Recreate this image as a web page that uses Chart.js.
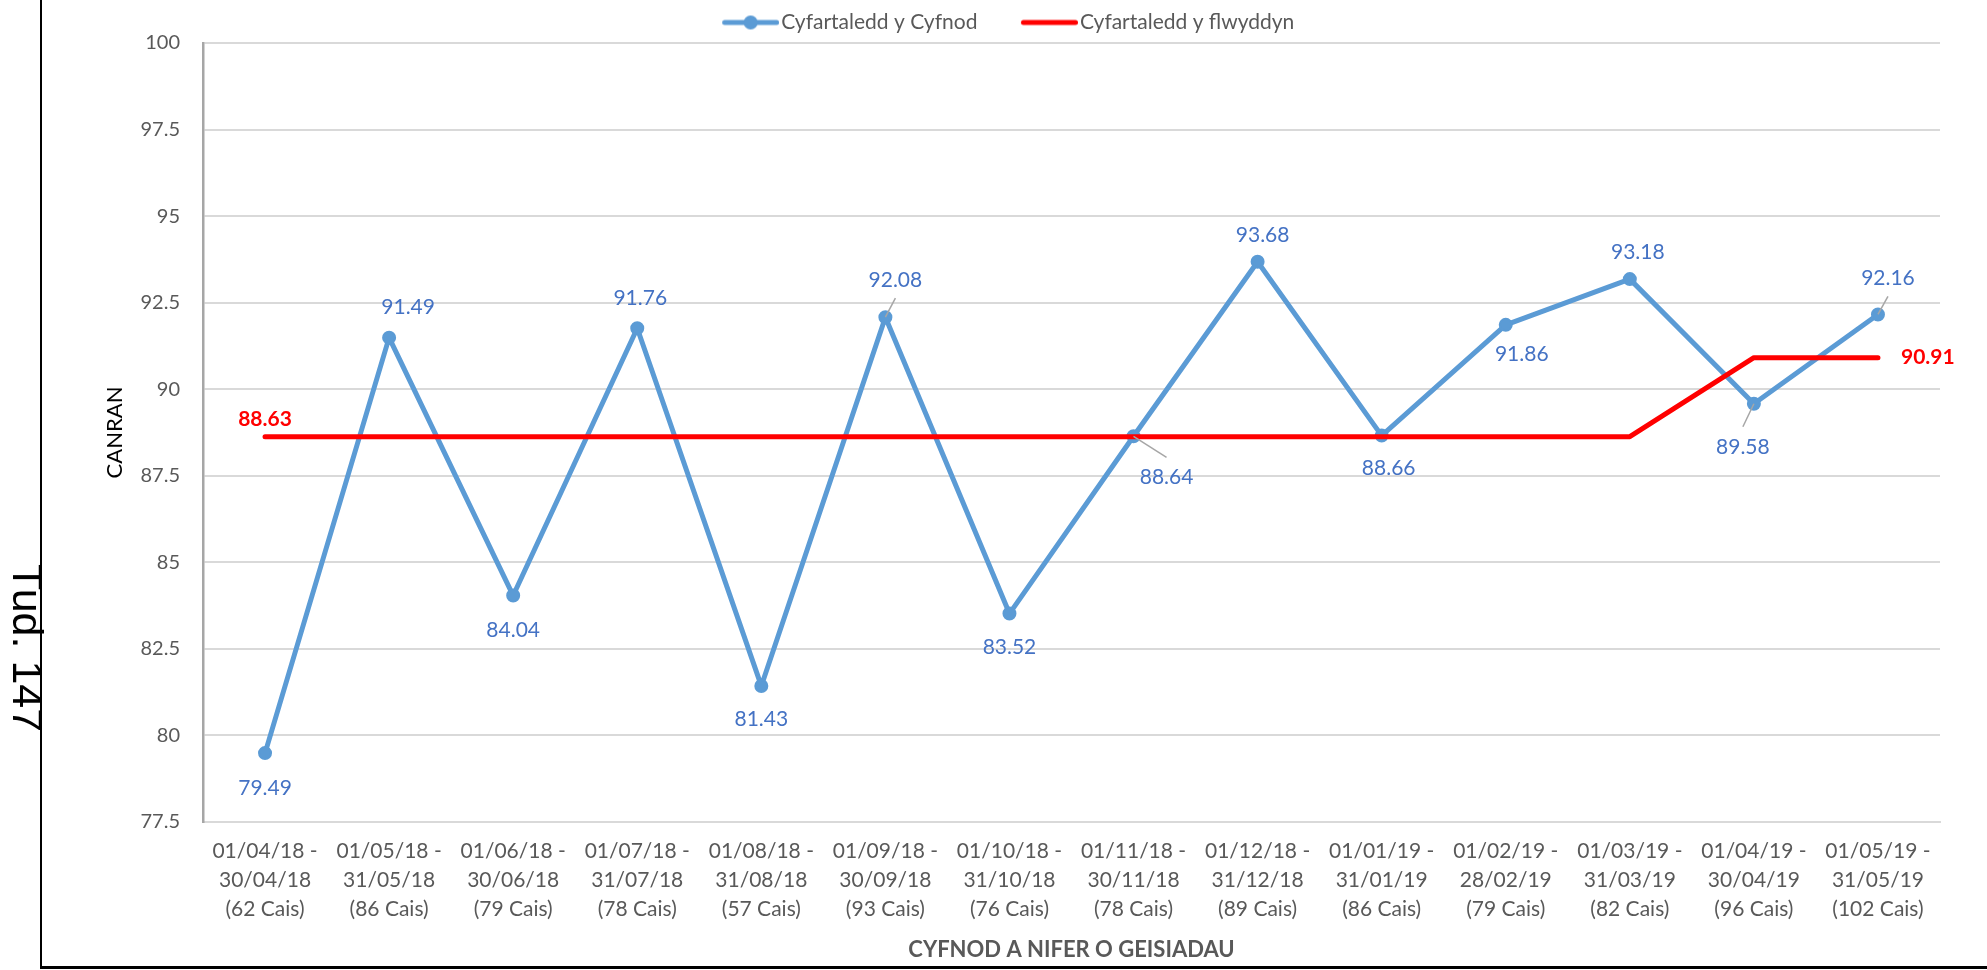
<!DOCTYPE html>
<html>
<head>
<meta charset="utf-8">
<script src="https://cdn.jsdelivr.net/npm/chart.js@4.4.1/dist/chart.umd.min.js"></script>
<style>
  html, body { margin: 0; padding: 0; background: #fff; }
  body { width: 1987px; height: 970px; position: relative; overflow: hidden; }
  #grafico { position: absolute; left: 0; top: 0; }
  .borda-esq { position: absolute; left: 40px; top: 0; width: 2px; height: 968px; background: #000; }
  .borda-baixo { position: absolute; left: 40px; top: 966px; width: 1947px; height: 3px; background: #000; }
  .tud { position: absolute; left: 49px; top: 564px; font: 43px/43px "Liberation Sans", Arial, sans-serif; color: #000; transform-origin: 0 0; transform: rotate(90deg); white-space: nowrap; }
</style>
</head>
<body>
<canvas id="grafico" width="1987" height="970"></canvas>
<div class="borda-esq"></div>
<div class="borda-baixo"></div>
<div class="tud">Tud. 147</div>
<script>
const dechrauCyfnod = ['01/04/18', '01/05/18', '01/06/18', '01/07/18', '01/08/18', '01/09/18', '01/10/18',
  '01/11/18', '01/12/18', '01/01/19', '01/02/19', '01/03/19', '01/04/19', '01/05/19'];
const diweddCyfnod = ['30/04/18', '31/05/18', '30/06/18', '31/07/18', '31/08/18', '30/09/18', '31/10/18',
  '30/11/18', '31/12/18', '31/01/19', '28/02/19', '31/03/19', '30/04/19', '31/05/19'];
const niferCeisiadau = [62, 86, 79, 78, 57, 93, 76, 78, 89, 86, 79, 82, 96, 102];

const cyfartaleddCyfnod = [79.49, 91.49, 84.04, 91.76, 81.43, 92.08, 83.52, 88.64, 93.68, 88.66, 91.86, 93.18, 89.58, 92.16];
const cyfartaleddBlwyddyn = [88.63, 88.63, 88.63, 88.63, 88.63, 88.63, 88.63, 88.63, 88.63, 88.63, 88.63, 88.63, 90.91, 90.91];

const yMin = 77.5;
const yMax = 100;
const yCam = 2.5;

// onde fica cada rotulo em relacao ao ponto (dx, dy)
const posicaoRotulos = [[0, 35], [19, -30], [0, 35], [3, -30], [0, 33], [10, -37], [0, 34],
  [33, 41], [5, -27], [7, 33], [16, 29], [8, -27], [-11, 43], [10, -36]];
const linhasGuia = [5, 7, 12, 13];

const categorias = dechrauCyfnod.map((inicio, i) => [inicio + ' -', diweddCyfnod[i], '(' + niferCeisiadau[i] + ' Cais)']);

const fonte = 'Lato, "Noto Sans", sans-serif';
Chart.defaults.font.family = fonte;

function criaMarcador(cor, comPonto) {
  const c = document.createElement('canvas');
  c.width = 97;
  c.height = 16;
  const g = c.getContext('2d');
  g.strokeStyle = cor;
  g.lineWidth = 5;
  g.lineCap = 'round';
  g.beginPath();
  g.moveTo(42.5, 8);
  g.lineTo(94.5, 8);
  g.stroke();
  if (comPonto) {
    g.fillStyle = cor;
    g.beginPath();
    g.arc(68.5, 8, 7, 0, Math.PI * 2);
    g.fill();
  }
  return c;
}

const marcadores = [criaMarcador('#5b9bd5', true), criaMarcador('#ff0000', false)];

const alturaLegenda = {
  id: 'alturaLegenda',
  beforeInit(chart) {
    const fitOriginal = chart.legend.fit;
    chart.legend.fit = function () {
      fitOriginal.bind(chart.legend)();
      this.height = 43;
    };
  }
};

const rotulos = {
  id: 'rotulos',
  afterDatasetsDraw(chart) {
    const ctx = chart.ctx;
    const pontos = chart.getDatasetMeta(0).data;
    ctx.save();
    ctx.textAlign = 'center';
    ctx.textBaseline = 'middle';
    pontos.forEach((ponto, i) => {
      const x = ponto.x + posicaoRotulos[i][0];
      const y = ponto.y + posicaoRotulos[i][1];
      if (linhasGuia.includes(i)) {
        ctx.strokeStyle = '#a6a6a6';
        ctx.lineWidth = 1.5;
        ctx.beginPath();
        ctx.moveTo(ponto.x, ponto.y);
        ctx.lineTo(x, posicaoRotulos[i][1] < 0 ? y + 18 : y - 20);
        ctx.stroke();
      }
      ctx.font = '21px ' + fonte;
      ctx.fillStyle = '#4472c4';
      ctx.fillText(cyfartaleddCyfnod[i].toFixed(2), x, y);
    });

    const linhaAno = chart.getDatasetMeta(1).data;
    const ultimo = linhaAno.length - 1;
    ctx.font = 'bold 21px ' + fonte;
    ctx.fillStyle = '#ff0000';
    ctx.fillText(cyfartaleddBlwyddyn[0].toFixed(2), linhaAno[0].x, linhaAno[0].y - 17);
    ctx.textAlign = 'left';
    ctx.fillText(cyfartaleddBlwyddyn[ultimo].toFixed(2), linhaAno[ultimo].x + 23, linhaAno[ultimo].y);
    ctx.restore();
  }
};

const grafico = new Chart(document.getElementById('grafico'), {
  type: 'line',
  data: {
    labels: categorias,
    datasets: [{
      label: 'Cyfartaledd y Cyfnod',
      data: cyfartaleddCyfnod,
      borderColor: '#5b9bd5',
      backgroundColor: '#5b9bd5',
      borderWidth: 5,
      borderCapStyle: 'round',
      borderJoinStyle: 'round',
      pointRadius: 6,
      pointBorderWidth: 2,
      pointBackgroundColor: '#5b9bd5',
      pointBorderColor: '#5b9bd5',
      tension: 0,
      order: 1
    }, {
      label: 'Cyfartaledd y flwyddyn',
      data: cyfartaleddBlwyddyn,
      borderColor: '#ff0000',
      backgroundColor: '#ff0000',
      borderWidth: 5,
      borderCapStyle: 'round',
      borderJoinStyle: 'round',
      pointRadius: 0,
      tension: 0,
      order: 0
    }]
  },
  options: {
    responsive: false,
    animation: false,
    layout: { padding: { left: 45, right: 47, top: 0, bottom: 0 } },
    plugins: {
      tooltip: { enabled: false },
      legend: {
        position: 'top',
        labels: {
          usePointStyle: true,
          pointStyleWidth: 80,
          padding: 12,
          color: '#595959',
          font: { size: 21 },
          sort: (a, b) => a.datasetIndex - b.datasetIndex,
          generateLabels(chart) {
            const itens = Chart.defaults.plugins.legend.labels.generateLabels(chart);
            itens.forEach(item => { item.pointStyle = marcadores[item.datasetIndex]; });
            return itens;
          }
        }
      }
    },
    scales: {
      x: {
        offset: true,
        grid: { display: false, drawTicks: false },
        border: { display: true, color: '#d9d9d9', width: 2 },
        ticks: {
          color: '#595959',
          font: { size: 21, lineHeight: 1.38 },
          padding: 15,
          maxRotation: 0,
          autoSkip: false
        },
        title: {
          display: true,
          text: 'CYFNOD A NIFER O GEISIADAU',
          color: '#595959',
          font: { size: 22, weight: 'bold' },
          padding: { top: 0, bottom: 7 }
        },
        afterFit(escala) { escala.height = 148; }
      },
      y: {
        min: yMin,
        max: yMax,
        grid: { color: '#d9d9d9', lineWidth: 2, drawTicks: false },
        border: { display: true, color: '#a6a6a6', width: 2.5 },
        ticks: {
          stepSize: yCam,
          color: '#595959',
          font: { size: 20 },
          padding: 23
        },
        title: {
          display: true,
          text: 'CANRAN',
          color: '#000',
          font: { size: 22 },
          padding: { top: 57, bottom: 0 }
        },
        afterFit(escala) { escala.width = 158; }
      }
    }
  },
  plugins: [alturaLegenda, rotulos]
});
</script>
</body>
</html>
